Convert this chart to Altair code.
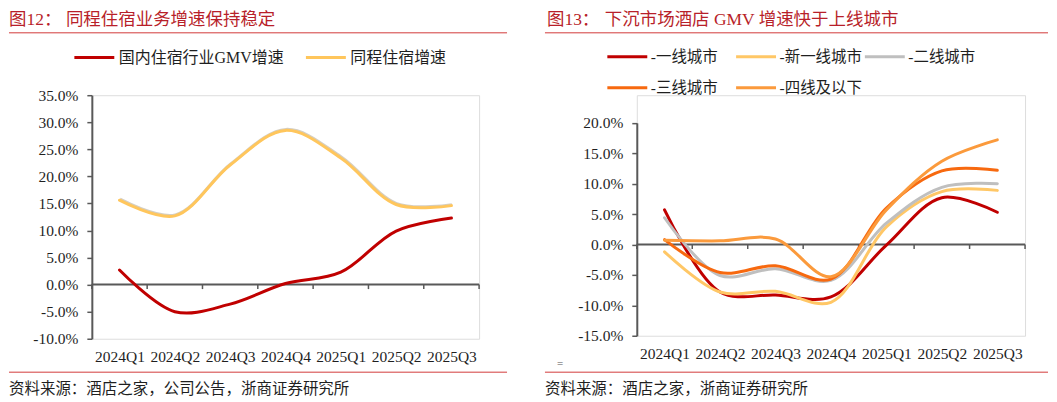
import altair as alt
import pandas as pd

# ---------------- data ----------------
quarters = ["2024Q1", "2024Q2", "2024Q3", "2024Q4", "2025Q1", "2025Q2", "2025Q3"]

left_series = ["国内住宿行业GMV增速", "同程住宿增速"]
left_gmv = [2.7, -5.0, -3.6, 0.2, 2.3, 9.9, 12.3]
left_tongcheng = [15.6, 12.7, 22.1, 28.5, 23.4, 14.8, 14.6]

right_series = ["-一线城市", "-新一线城市", "-二线城市", "-三线城市", "-四线及以下"]
r_tier1 = [5.7, -7.8, -8.3, -8.6, -0.1, 7.7, 5.3]
r_newtier1 = [-1.2, -7.8, -7.7, -9.5, 2.9, 8.7, 8.9]
r_tier2 = [4.4, -5.1, -4.0, -5.9, 3.5, 9.4, 10.0]
r_tier3 = [0.8, -4.6, -3.5, -5.7, 6.0, 12.1, 12.2]
r_tier4 = [0.7, 0.6, 0.9, -5.3, 5.7, 13.7, 17.2]

left_ticks = [-10, -5, 0, 5, 10, 15, 20, 25, 30, 35]
right_ticks = [-15, -10, -5, 0, 5, 10, 15, 20]

left_title_no = "图12："
left_title = "同程住宿业务增速保持稳定"
right_title_no = "图13："
right_title = "下沉市场酒店 GMV 增速快于上线城市"
left_source = "资料来源：酒店之家，公司公告，浙商证券研究所"
right_source = "资料来源：酒店之家，浙商证券研究所"

# ---------------- style ----------------
FONT = "Liberation Serif, Noto Sans CJK SC"
AXIS_C = "#595959"
TEXT_C = "#1f1f1f"
TITLE_C = "#B81F2A"
RULE_C = "#D23A3A"
left_colors = ["#C00000", "#FFC65C"]
right_colors = ["#C00000", "#FFC766", "#BFBFBF", "#F7690F", "#FB9A3C"]
TITLE_Y = -75.25


def long_df(names, cols):
    rows = []
    for name, vals in zip(names, cols):
        for i, v in enumerate(vals):
            rows.append({"i": i, "quarter": quarters[i], "series": name, "value": v})
    return pd.DataFrame(rows)


label_expr = "[" + ",".join("'%s'" % q for q in quarters) + "][round(datum.value)]"
pct_expr = "(datum.value < 0 ? '-' : '') + format(abs(datum.value), '.1f') + '%'"


def x_enc():
    return alt.X(
        "i:Q",
        scale=alt.Scale(domain=[-0.5, len(quarters) - 0.5], nice=False, zero=False),
        axis=alt.Axis(
            values=list(range(len(quarters))), labelExpr=label_expr, domain=False,
            ticks=False, grid=False, title=None, labelFont=FONT, labelFontSize=15.5,
            labelColor=TEXT_C, labelPadding=11, labelFlush=False, labelOverlap=False,
        ),
    )


def y_enc(dom, ticks, rng):
    sc = alt.Scale(domain=dom, nice=False, zero=False)
    if rng is not None:
        sc = alt.Scale(domain=dom, range=rng, nice=False, zero=False)
    return alt.Y(
        "value:Q",
        scale=sc,
        axis=alt.Axis(
            values=ticks, labelExpr=pct_expr, grid=False, title=None,
            domainColor=AXIS_C, domainWidth=2, tickColor=AXIS_C, tickWidth=1.5,
            tickSize=5, labelFont=FONT, labelFontSize=15.5, labelColor=TEXT_C,
            labelPadding=9, labelFlush=False, labelOverlap=False,
        ),
    )


def deco_text(txt, x, y, size, color, font=FONT):
    return alt.Chart(pd.DataFrame({"t": [txt]})).mark_text(
        align="left", baseline="middle", font=font, fontSize=size, color=color
    ).encode(x=alt.value(x), y=alt.value(y), text="t:N")


def deco_rule(x1, x2, y, color=RULE_C, w=1):
    return alt.Chart(pd.DataFrame({"t": [0]})).mark_rule(color=color, strokeWidth=w).encode(
        x=alt.value(x1), x2=alt.value(x2), y=alt.value(y)
    )


def panel(df, names, colors, dom, ticks, rng, w, h, px_per_unit, legend, deco,
          shadow_series=None):
    ys = y_enc(dom, ticks, rng)
    tick_len = 4.5 / px_per_unit
    bdf = pd.DataFrame({
        "i": [k - 0.5 for k in range(len(quarters) + 1)],
        "value": [0.0] * (len(quarters) + 1),
        "value2": [-tick_len] * (len(quarters) + 1),
    })
    zero = alt.Chart(pd.DataFrame({"value": [0.0]})).mark_rule(
        color=AXIS_C, strokeWidth=2
    ).encode(y=ys)
    bticks = alt.Chart(bdf).mark_rule(color=AXIS_C, strokeWidth=1.5).encode(
        x=x_enc(), y=ys, y2="value2:Q"
    )
    layers = [zero, bticks]
    if shadow_series is not None:
        shadow = alt.Chart(df[df["series"] == shadow_series]).mark_line(
            interpolate="catmull-rom", strokeWidth=3, color="#C9C2B4",
            yOffset=-1, xOffset=0.5, opacity=0.8,
        ).encode(x=x_enc(), y=ys, order=alt.Order("i:Q"))
        layers.append(shadow)
    lines = alt.Chart(df).mark_line(
        interpolate="catmull-rom", strokeWidth=3, strokeCap="round"
    ).encode(
        x=x_enc(),
        y=ys,
        color=alt.Color("series:N", scale=alt.Scale(domain=names, range=colors),
                        sort=names, legend=legend),
        order=alt.Order("i:Q"),
        detail="series:N",
    )
    layers.append(lines)
    return alt.layer(*layers, *deco).properties(width=w, height=h)


# ---------------- left panel (plot origin at page 91, 94) ----------------
ldf = long_df(left_series, [left_gmv, left_tongcheng])
left_legend = alt.Legend(
    orient="none", legendX=-19, legendY=-59.5, direction="horizontal", title=None,
    symbolType="stroke", symbolSize=1600, symbolStrokeWidth=3, labelFont=FONT,
    labelFontSize=16, labelColor=TEXT_C, labelLimit=400, columnPadding=15,
    labelOffset=3, padding=0,
)
left_deco = [
    deco_text(left_title_no, -83, TITLE_Y, 17.5, TITLE_C),
    deco_text(left_title, -26, TITLE_Y, 17.5, TITLE_C),
    deco_rule(-83, 416, -62.5),
    deco_rule(-83, 416, 277.5),
    deco_text(left_source, -83, 294, 15.5, TEXT_C),
]
left = panel(ldf, left_series, left_colors, [-10, 35], left_ticks, None, 388, 244, 5.44,
             left_legend, left_deco, shadow_series="同程住宿增速")

# ---------------- right panel (plot origin at page 635, 94) ----------------
rdf = long_df(right_series, [r_tier1, r_newtier1, r_tier2, r_tier3, r_tier4])
right_legend = alt.Legend(
    orient="none", legendX=-31, legendY=-60, direction="horizontal", columns=3,
    gridAlign="all", title=None, symbolType="stroke", symbolSize=1600,
    symbolStrokeWidth=3, labelFont=FONT, labelFontSize=15.5, labelColor=TEXT_C,
    labelLimit=400, columnPadding=-4, rowPadding=1, labelOffset=2, padding=0,
)
right_deco = [
    deco_text(right_title_no, -90, TITLE_Y, 17.5, TITLE_C),
    deco_text(right_title, -32, TITLE_Y, 17.5, TITLE_C),
    deco_rule(-92, 412, -62.5),
    deco_rule(-92, 412, 277.5),
    deco_text(right_source, -92, 294, 15.5, TEXT_C),
    deco_text("=", -80, 269, 11, "#555555"),
]
right = panel(rdf, right_series, right_colors, [-15, 20], right_ticks, [241, 27.7],
              389, 241, 6.05, right_legend, right_deco)

chart = alt.hconcat(left, right, spacing=36).resolve_scale(
    color="independent", x="independent", y="independent"
).resolve_legend(color="independent").properties(
    padding={"left": 0, "top": 2, "right": 0, "bottom": 0}
).configure_view(stroke=None).configure(background="white")

chart.save("out.html", embed_options={"renderer": "svg", "actions": False})
